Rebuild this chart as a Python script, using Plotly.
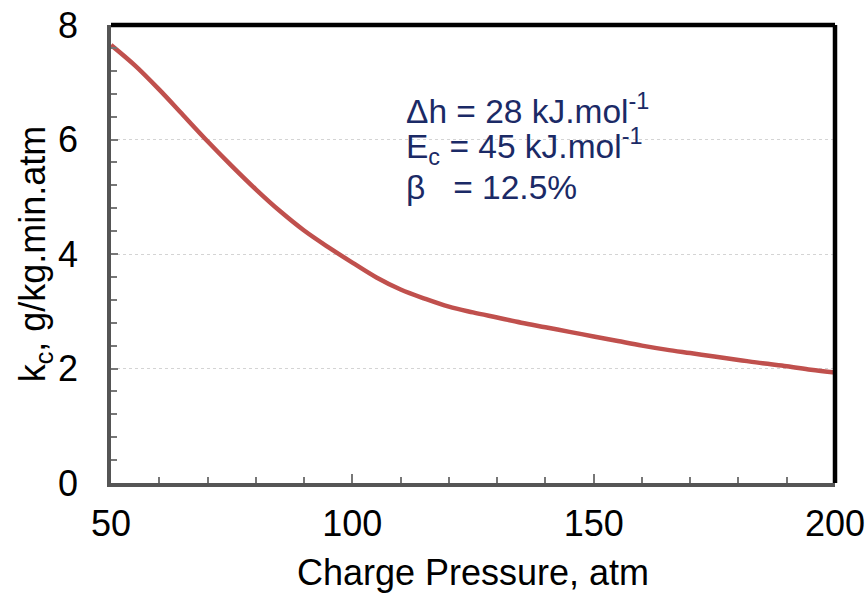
import plotly.graph_objects as go

# Charge pressure (atm) and mass-transfer coefficient k_c (g/kg.min.atm)
pressure = [50, 55, 60, 65, 70, 75, 80, 85, 90, 95, 100, 105, 110, 115, 120, 125,
            130, 135, 140, 145, 150, 155, 160, 165, 170, 175, 180, 185, 190, 195, 200]
kc = [7.65, 7.29, 6.87, 6.42, 5.97, 5.54, 5.13, 4.75, 4.41, 4.12, 3.85, 3.59, 3.38,
      3.22, 3.08, 2.98, 2.89, 2.80, 2.72, 2.64, 2.56, 2.48, 2.40, 2.33, 2.27, 2.21,
      2.15, 2.09, 2.04, 1.98, 1.93]

x_ticks = [50, 100, 150, 200]
y_ticks = [0, 2, 4, 6, 8]

params = [
    "\u0394h = 28 kJ.mol<sup>-1</sup>",
    "E<sub>c</sub> = 45 kJ.mol<sup>-1</sup>",
    "\u03b2\u00a0\u00a0\u00a0= 12.5%",
]
param_y = [6.53, 5.87, 5.17]

FONT = "Liberation Sans, Arial, sans-serif"
NAVY = "#1B2A66"

fig = go.Figure()
fig.add_trace(go.Scatter(
    x=pressure, y=kc, mode="lines",
    line=dict(color="#C0504D", width=4.5, shape="spline", smoothing=1.0),
    showlegend=False, hoverinfo="skip",
))

for txt, yv in zip(params, param_y):
    fig.add_annotation(x=110.8, y=yv, xref="x", yref="y", text=txt,
                       showarrow=False, xanchor="left", yanchor="middle",
                       font=dict(family=FONT, size=33.5, color=NAVY))

# heavy black frame on the top and right sides
fig.add_shape(type="line", xref="paper", yref="paper", x0=0, x1=1, y0=1, y1=1,
              line=dict(color="black", width=4.5), layer="above")
fig.add_shape(type="line", xref="paper", yref="paper", x0=1, x1=1, y0=0, y1=1,
              line=dict(color="black", width=4.5), layer="above")

fig.update_layout(
    width=867, height=593,
    margin=dict(l=111, r=32, t=25, b=110),
    paper_bgcolor="white", plot_bgcolor="white",
    font=dict(family=FONT, size=36, color="black"),
    xaxis=dict(
        range=[50, 200], tickvals=x_ticks, ticks="inside", ticklen=9, tickwidth=1.5,
        tickcolor="#777777", showline=True, linecolor="#555555", linewidth=3.5,
        showgrid=False, zeroline=False, ticklabelstandoff=6, automargin=False,
        minor=dict(dtick=10, ticks="inside", ticklen=6, tickwidth=1.5, tickcolor="#777777",
                   showgrid=False),
        title=dict(text="Charge Pressure, atm", font=dict(size=36), standoff=40),
        tickfont=dict(size=36),
    ),
    yaxis=dict(
        range=[0, 8], tickvals=y_ticks, ticks="inside", ticklen=7, tickwidth=1.5,
        tickcolor="#777777", showline=True, linecolor="#555555", linewidth=3.5,
        showgrid=True, gridcolor="#d4d4d4", griddash="dot", gridwidth=1,
        zeroline=False, ticklabelstandoff=22, automargin=False,
        minor=dict(dtick=0.4, ticks="inside", ticklen=6, tickwidth=1.5, tickcolor="#777777",
                   showgrid=False),
        title=dict(text="k<sub>c</sub>, g/kg.min.atm", font=dict(size=36), standoff=0),
        tickfont=dict(size=36),
    ),
)

fig.write_html("out.html")
